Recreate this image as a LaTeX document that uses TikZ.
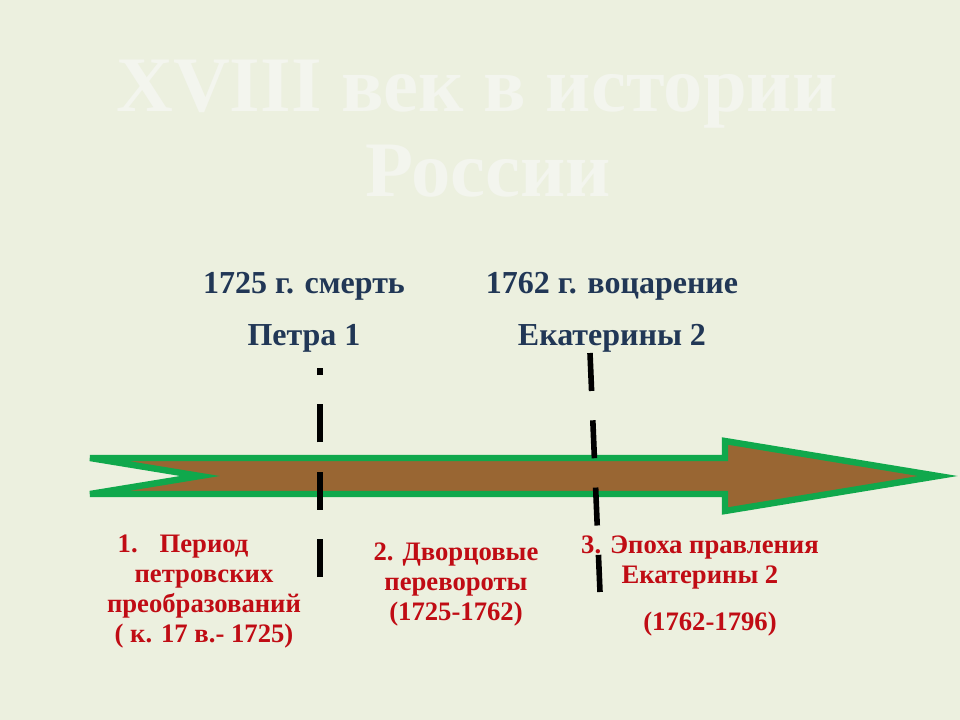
\documentclass[tikz,border=0pt]{standalone}
\usepackage{fontspec}
\setmainfont{Liberation Serif}
\usetikzlibrary{positioning}
\definecolor{slidebg}{RGB}{236,240,223}
\definecolor{titlegray}{RGB}{243,245,238}
\definecolor{dateblue}{RGB}{33,55,86}
\definecolor{periodred}{RGB}{192,12,20}
\definecolor{axisgreen}{RGB}{16,168,76}
\definecolor{axisbrown}{RGB}{153,102,51}

\begin{document}
\begin{tikzpicture}[x=0.75pt,y=-0.75pt,
  slidetitle/.style={text=titlegray, font=\fontsize{59}{64}\selectfont\bfseries, anchor=base},
  datetag/.style={text=dateblue, font=\fontsize{24}{28}\selectfont\bfseries, anchor=base},
  periodtag/.style={text=periodred, font=\fontsize{20}{22.5}\selectfont\bfseries, align=center, anchor=base},
  cutline/.style={line width=4.2pt, dash pattern=on 28.5pt off 22pt}
  ]
  % background
  \fill[slidebg] (0,0) rectangle (960,720);
  \useasboundingbox (0,0) rectangle (960,720);

  % title
  \node[slidetitle] (title1) at (477,112) {XVIII век в истории};
  \node[slidetitle] (title2) at (488,197) {России};

  % time axis
  \filldraw[fill=axisbrown, draw=axisgreen, line width=4.8pt, line join=miter]
    (90,458) -- (725,458) -- (725,441) -- (938,476) -- (725,511) -- (725,494)
    -- (90,494) -- (200,476) -- cycle;

  % dates above the axis
  \node[datetag] (peter1) at (304,293) {1725 г. смерть};
  \node[datetag] (peter2) at (304,345) {Петра 1};
  \node[datetag] (cath1) at (612,293) {1762 г. воцарение};
  \node[datetag] (cath2) at (612,345) {Екатерины 2};

  % borders of the periods
  \coordinate (cutAtop) at (320,368);
  \coordinate (cutAbot) at (320,577);
  \coordinate (cutBtop) at (590,353);
  \coordinate (cutBbot) at (600,592);
  \draw[cutline] (cutAbot) -- (cutAtop);
  \draw[cutline] (cutBtop) -- (cutBbot);

  % periods (base = last line)
  \node[periodtag, anchor=base west] (num1) at (113,552) {1.};
  \node[periodtag] (period1) at (204,642) {Период\\петровских\\преобразований\\( к. 17 в.- 1725)};
  \node[periodtag] (period2) at (456,620) {2. Дворцовые\\перевороты\\(1725-1762)};
  \node[periodtag] (period3) at (700,583) {3. Эпоха правления\\Екатерины 2};
  \node[periodtag] (years3) at (710,630) {(1762-1796)};
\end{tikzpicture}
\end{document}
